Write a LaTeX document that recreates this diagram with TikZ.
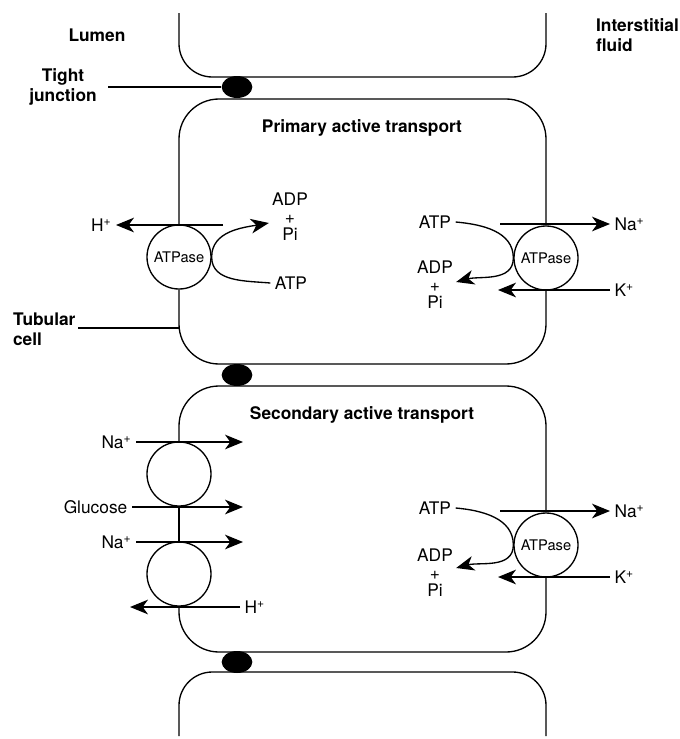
\documentclass[tikz,border=0pt]{standalone}
\usepackage{fontspec}
\setmainfont{TeX Gyre Heros}
\usetikzlibrary{calc}
\usetikzlibrary{shapes.geometric}
\usetikzlibrary{arrows.meta}
\tikzstyle{pump} = [circle, draw, minimum size=48pt, inner sep=0pt,
    font=\fontsize{11}{12}\selectfont]
\tikzstyle{junction} = [ellipse, fill=black, minimum width=23pt,
    minimum height=16.5pt, inner sep=0pt]
\tikzstyle{ion} = [font=\fontsize{13}{15}\selectfont, inner xsep=3pt,
    inner ysep=1pt, text height=9.4pt, text depth=0pt]
\tikzstyle{stack} = [font=\fontsize{13}{13}\selectfont, align=center, inner sep=2pt]
\tikzstyle{tag} = [font=\fontsize{13}{15}\selectfont\bfseries, align=center]
\tikzstyle{line} = [draw, -{Stealth[length=13.5pt, width=11pt, inset=4pt]}]
\tikzstyle{wall} = [draw, rounded corners=30pt]

\begin{document}
\begin{tikzpicture}[x=0.75pt, y=-0.75pt, line width=1pt]
    \useasboundingbox (0,0) rectangle (679,739);
    % Place nodes
    \node [tag] (lumen) at (97,35) {Lumen};
    \node [tag, anchor=west, align=left] (fluid) at (591,35) {Interstitial\\fluid};
    \node [tag] (tight) at (63,87) {Tight\\junction};
    \node [tag, anchor=west, align=left] (tubular) at (8,329) {Tubular\\cell};
    \node [junction] (tj1) at (237,87) {};
    \node [junction] (tj2) at (237,375) {};
    \node [junction] (tj3) at (237,662) {};
    \node [tag] (pri) at (362,128) {Primary active transport};
    \node [tag] (sec) at (362,415) {Secondary active transport};
    % primary
    \node [pump] (pumpA) at (179,257) {ATPase};
    \node [pump] (pumpB) at (546,258) {ATPase};
    \node [ion, anchor=east] (hA) at (116,225) {H\textsuperscript{+}};
    \node [stack] (adpA) at (290,217) {ADP\\+\\Pi};
    \node [ion] (atpA) at (291,283) {ATP};
    \node [ion] (atpB) at (435,222) {ATP};
    \node [stack] (adpB) at (435,285) {ADP\\+\\Pi};
    \node [ion, anchor=west] (naB) at (610,224) {Na\textsuperscript{+}};
    \node [ion, anchor=west] (kB) at (610,290) {K\textsuperscript{+}};
    % secondary
    \node [pump] (symA) at (179,474) {};
    \node [pump] (symB) at (179,574) {};
    \node [pump] (pumpC) at (546,545) {ATPase};
    \node [ion, anchor=east] (naD) at (136,442) {Na\textsuperscript{+}};
    \node [ion, anchor=east] (glc) at (132,507) {Glucose};
    \node [ion, anchor=east] (naE) at (136,542) {Na\textsuperscript{+}};
    \node [ion, anchor=west] (hC) at (240,607) {H\textsuperscript{+}};
    \node [ion] (atpC) at (435,508) {ATP};
    \node [stack] (adpC) at (435,573) {ADP\\+\\Pi};
    \node [ion, anchor=west] (naC) at (610,511) {Na\textsuperscript{+}};
    \node [ion, anchor=west] (kC) at (610,577) {K\textsuperscript{+}};
    % free ends
    \coordinate (tjEnd) at (108,87);
    \coordinate (tcEnd) at (78,328);
    \coordinate (tA) at (223,225);
    \coordinate (tB) at (500,224);
    \coordinate (eB) at (498,290);
    \coordinate (eD) at (243,442);
    \coordinate (eG) at (243,507);
    \coordinate (eE) at (243,542);
    \coordinate (eH) at (130,607);
    \coordinate (tC) at (500,511);
    \coordinate (eC) at (498,577);
    % Draw cell walls
    \draw [rounded corners=25pt] (179,13) -- (179,77) -- (546,77) -- (546,13);
    \path [wall] (pumpA.north) -- (179,99) -- (546,99) -- (pumpB.north);
    \path [wall] (pumpB.south) -- (546,364) -- (179,364) -- (pumpA.south);
    \path [wall] (symA.north) -- (179,386) -- (546,386) -- (pumpC.north);
    \path [wall] (pumpC.south) -- (546,652) -- (179,652) -- (symB.south);
    \draw (symA.south) -- (symB.north);
    \draw [rounded corners=25pt] (179,736) -- (179,672) -- (546,672) -- (546,736);
    % Draw edges
    \draw (tjEnd) -- (tj1.west);
    \draw (tcEnd) -- (tcEnd -| pumpA);
    \path [line] (tA) -- (hA.east);
    \path [line] (atpA.west) to[out=175, in=-90] (pumpA.east)
        to[out=90, in=190] ($(adpA.west)+(0,6)$);
    \path [line] (atpB.east) to[out=-5, in=90] (pumpB.west)
        to[out=-90, in=15] ($(adpB.east)+(0,-3)$);
    \path [line] (tB) -- (naB.west);
    \path [line] (kB.west) -- (eB);
    \path [line] (naD.east) -- (eD);
    \path [line] (glc.east) -- (eG);
    \path [line] (naE.east) -- (eE);
    \path [line] (hC.west) -- (eH);
    \path [line] (atpC.east) to[out=-5, in=90] (pumpC.west)
        to[out=-90, in=15] ($(adpC.east)+(0,-5)$);
    \path [line] (tC) -- (naC.west);
    \path [line] (kC.west) -- (eC);
\end{tikzpicture}
\end{document}
